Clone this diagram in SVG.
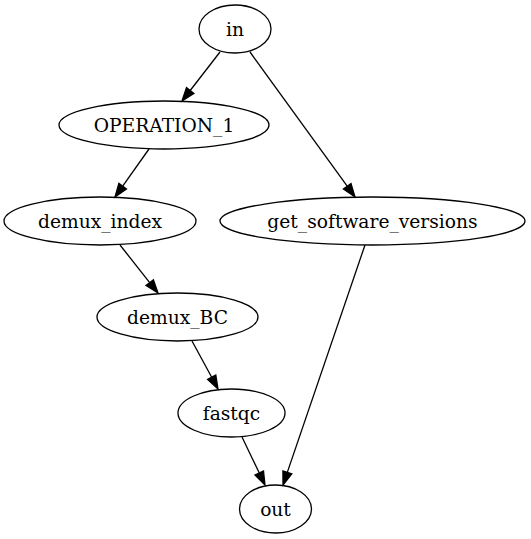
<svg xmlns="http://www.w3.org/2000/svg" width="531" height="539" viewBox="0 0 531 539">
  <style>
    .node ellipse { fill: none; stroke: #000; stroke-width: 1.3; }
    .node text { font-family: "DejaVu Serif", "Liberation Serif", serif; font-size: 18.67px; text-anchor: middle; fill: #000; }
    .edge line { stroke: #000; stroke-width: 1.3; }
    .edge polygon { fill: #000; stroke: #000; stroke-width: 1.3; }
  </style>
  <rect width="531" height="539" fill="#fff"/>

  <g id="edges">
    <g class="edge" id="in-OPERATION_1">
      <line x1="220" y1="52" x2="190.2" y2="90.5"/>
      <polygon points="182,101 193.9,93.4 186.5,87.6"/>
    </g>
    <g class="edge" id="in-get_software_versions">
      <line x1="250" y1="52" x2="347.2" y2="186.2"/>
      <polygon points="355,197 351.0,183.5 343.4,189.0"/>
    </g>
    <g class="edge" id="OPERATION_1-demux_index">
      <line x1="149" y1="149" x2="122.7" y2="186.1"/>
      <polygon points="115,197 126.5,188.9 118.9,183.4"/>
    </g>
    <g class="edge" id="demux_index-demux_BC">
      <line x1="120" y1="245" x2="149.7" y2="282.6"/>
      <polygon points="158,293 153.4,279.7 146.0,285.5"/>
    </g>
    <g class="edge" id="demux_BC-fastqc">
      <line x1="192" y1="341" x2="211.7" y2="377.3"/>
      <polygon points="218,389 215.8,375.1 207.6,379.5"/>
    </g>
    <g class="edge" id="fastqc-out">
      <line x1="242" y1="437" x2="259.3" y2="473.0"/>
      <polygon points="265,485 263.5,471.0 255.0,475.0"/>
    </g>
    <g class="edge" id="get_software_versions-out">
      <line x1="365" y1="245" x2="287.3" y2="472.4"/>
      <polygon points="283,485 291.8,473.9 282.9,470.9"/>
    </g>
  </g>

  <g class="node" id="in">
    <ellipse cx="235" cy="29" rx="36" ry="24"/>
    <text x="235" y="35.5">in</text>
  </g>
  <g class="node" id="OPERATION_1">
    <ellipse cx="164" cy="125" rx="105" ry="24"/>
    <text x="164" y="131.5">OPERATION_1</text>
  </g>
  <g class="node" id="demux_index">
    <ellipse cx="100" cy="221" rx="96" ry="24"/>
    <text x="100" y="227.5">demux_index</text>
  </g>
  <g class="node" id="get_software_versions">
    <ellipse cx="372.5" cy="221" rx="152.5" ry="24"/>
    <text x="372.5" y="227.5">get_software_versions</text>
  </g>
  <g class="node" id="demux_BC">
    <ellipse cx="177.5" cy="317" rx="80.5" ry="24"/>
    <text x="177.5" y="323.5">demux_BC</text>
  </g>
  <g class="node" id="fastqc">
    <ellipse cx="231.5" cy="413" rx="53.5" ry="24"/>
    <text x="231.5" y="419.5">fastqc</text>
  </g>
  <g class="node" id="out">
    <ellipse cx="275.5" cy="509" rx="36" ry="24"/>
    <text x="275.5" y="515.5">out</text>
  </g>
</svg>
